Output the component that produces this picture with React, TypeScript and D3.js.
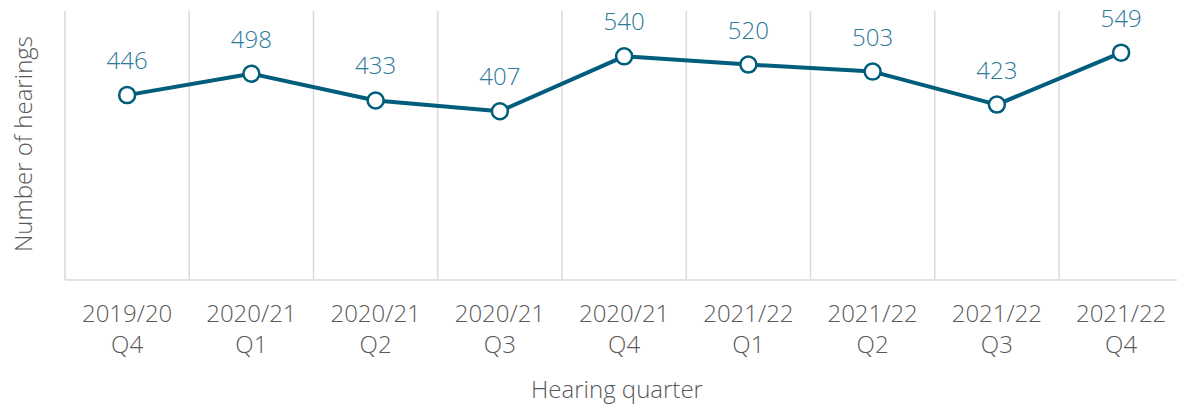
import { useEffect, useRef } from "react";
import * as d3 from "d3";

const quarters = ["2019/20|Q4", "2020/21|Q1", "2020/21|Q2", "2020/21|Q3", "2020/21|Q4", "2021/22|Q1", "2021/22|Q2", "2021/22|Q3", "2021/22|Q4"];
const hearings = [446, 498, 433, 407, 540, 520, 503, 423, 549];
const yDomain = [0, 650];

const WIDTH = 1177;
const HEIGHT = 409;
const FONT = "'Open Sans', sans-serif";
const LINE = "#005d7c";
const LABEL = "#2b7a98";
const GREY = "#595959";
const GRID = "#d9d9d9";

export default function App() {
  const ref = useRef<SVGSVGElement>(null);

  useEffect(() => {
    const svg = d3.select(ref.current);
    svg.selectAll("*").remove();

    const left = 65;
    const top = 11;
    const bottom = 279;
    const x = d3.scaleBand().domain(quarters).range([left, left + 9 * 124.25]);
    const y = d3.scaleLinear().domain(yDomain).range([bottom, top]);
    const cx = (d: string) => (x(d) || 0) + x.bandwidth() / 2;

    // vertical gridlines at category boundaries
    svg
      .selectAll("line.grid")
      .data(quarters.slice(1).map((q) => x(q) || 0).concat([x.range()[1]]))
      .join("line")
      .attr("class", "grid")
      .attr("x1", (d) => d)
      .attr("x2", (d) => d)
      .attr("y1", top)
      .attr("y2", bottom)
      .attr("stroke", GRID)
      .attr("stroke-width", 1.5);

    // axes
    svg.append("line").attr("x1", left).attr("x2", left).attr("y1", top).attr("y2", bottom + 1).attr("stroke", GRID).attr("stroke-width", 1.5);
    svg.append("line").attr("x1", left).attr("x2", x.range()[1]).attr("y1", bottom + 1).attr("y2", bottom + 1).attr("stroke", GRID).attr("stroke-width", 1.5);

    // category labels
    const ticks = svg
      .selectAll("text.tick")
      .data(quarters)
      .join("text")
      .attr("class", "tick")
      .attr("text-anchor", "middle")
      .attr("font-family", FONT)
      .attr("font-weight", 300)
      .attr("font-size", 24)
      .attr("fill", GREY);
    ticks
      .append("tspan")
      .attr("x", cx)
      .attr("y", 322)
      .text((d) => d.split("|")[0]);
    ticks
      .append("tspan")
      .attr("x", cx)
      .attr("y", 353)
      .text((d) => d.split("|")[1]);

    const line = d3
      .line<number>()
      .x((_, i) => cx(quarters[i]))
      .y((v) => y(v));

    svg.append("path").attr("d", line(hearings)).attr("fill", "none").attr("stroke", LINE).attr("stroke-width", 4).attr("stroke-linejoin", "round");

    svg
      .selectAll("circle.pt")
      .data(hearings)
      .join("circle")
      .attr("class", "pt")
      .attr("cx", (_, i) => cx(quarters[i]))
      .attr("cy", (v) => y(v))
      .attr("r", 8)
      .attr("fill", "#fff")
      .attr("stroke", LINE)
      .attr("stroke-width", 2.5);

    svg
      .selectAll("text.value")
      .data(hearings)
      .join("text")
      .attr("class", "value")
      .attr("x", (_, i) => cx(quarters[i]))
      .attr("y", (v) => y(v) - 26)
      .attr("text-anchor", "middle")
      .attr("font-family", FONT)
      .attr("font-weight", 300)
      .attr("font-size", 24)
      .attr("fill", LABEL)
      .text((v) => v);

    svg
      .append("text")
      .attr("x", 617)
      .attr("y", 398)
      .attr("text-anchor", "middle")
      .attr("font-family", FONT)
      .attr("font-weight", 300)
      .attr("font-size", 24)
      .attr("fill", GREY)
      .text("Hearing quarter");

    svg
      .append("text")
      .attr("transform", "translate(32,144) rotate(-90)")
      .attr("text-anchor", "middle")
      .attr("font-family", FONT)
      .attr("font-weight", 300)
      .attr("font-size", 24)
      .attr("fill", GREY)
      .text("Number of hearings");
  }, []);

  return (
    <svg
      ref={ref}
      width={WIDTH}
      height={HEIGHT}
      style={{ position: "fixed", top: 0, left: 0, background: "#fff" }}
    />
  );
}
